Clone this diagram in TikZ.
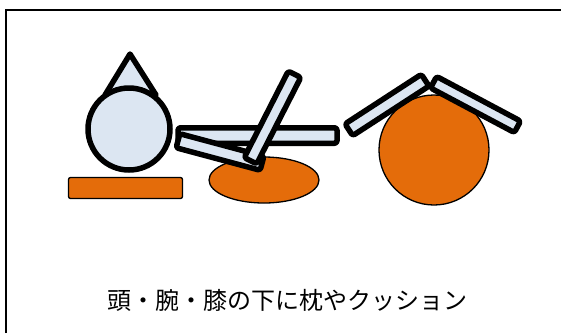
\documentclass[tikz,border=0pt]{standalone}
\usepackage{fontspec}
\usetikzlibrary{shapes.geometric}
\newfontfamily\jpfont{Noto Sans CJK JP}
\definecolor{limb}{RGB}{220,230,242}
\definecolor{cushion}{RGB}{228,108,10}
\begin{document}
\begin{tikzpicture}[x=1pt,y=-1pt,
  bar/.style={draw=black,line width=5.5pt,fill=limb,rounded corners=2.5pt,
    inner sep=0pt,rectangle,line join=round},
  pad/.style={draw=black,line width=1.3pt,fill=cushion},
  part/.style={draw=black,line width=5.5pt,fill=limb,line join=round}]
\useasboundingbox (0,0) rectangle (561,333);
% frame
\draw[line width=2pt] (6,333) -- (6,10) -- (561,10);

% head on its pillow
\node[pad,rectangle,rounded corners=2pt,minimum width=114pt,minimum height=21pt,inner sep=0pt] (pillow) at (125.5,188) {};
\draw[part] (130,54) -- (105,95) -- (156,95) -- cycle;
\node[part,circle,minimum size=82pt,inner sep=0pt] (head) at (129,129) {};

% arm resting on a cushion
\node[pad,ellipse,minimum width=110pt,minimum height=46pt,inner sep=0pt] (armpad) at (264,180) {};
\node[bar,minimum width=159pt,minimum height=15.5pt] (straightarm) at (257.5,135.5) {};
\node[bar,minimum width=87pt,minimum height=14.5pt,rotate=-15] (upperarm) at (220,152) {};
\node[bar,minimum width=97pt,minimum height=14pt,rotate=63] (forearm) at (272.5,117.5) {};

% knee raised over a cushion
\node[pad,circle,minimum size=110pt,inner sep=0pt] (kneepad) at (434,150) {};
\node[bar,minimum width=91pt,minimum height=14pt,rotate=33] (thigh) at (387,105) {};
\node[bar,minimum width=95pt,minimum height=13pt,rotate=-28] (shin) at (475.5,104.5) {};

\node[font=\jpfont\fontsize{24pt}{28pt}\selectfont,inner sep=0pt] (caption) at (287.5,300) {頭・腕・膝の下に枕やクッション};
\end{tikzpicture}
\end{document}
